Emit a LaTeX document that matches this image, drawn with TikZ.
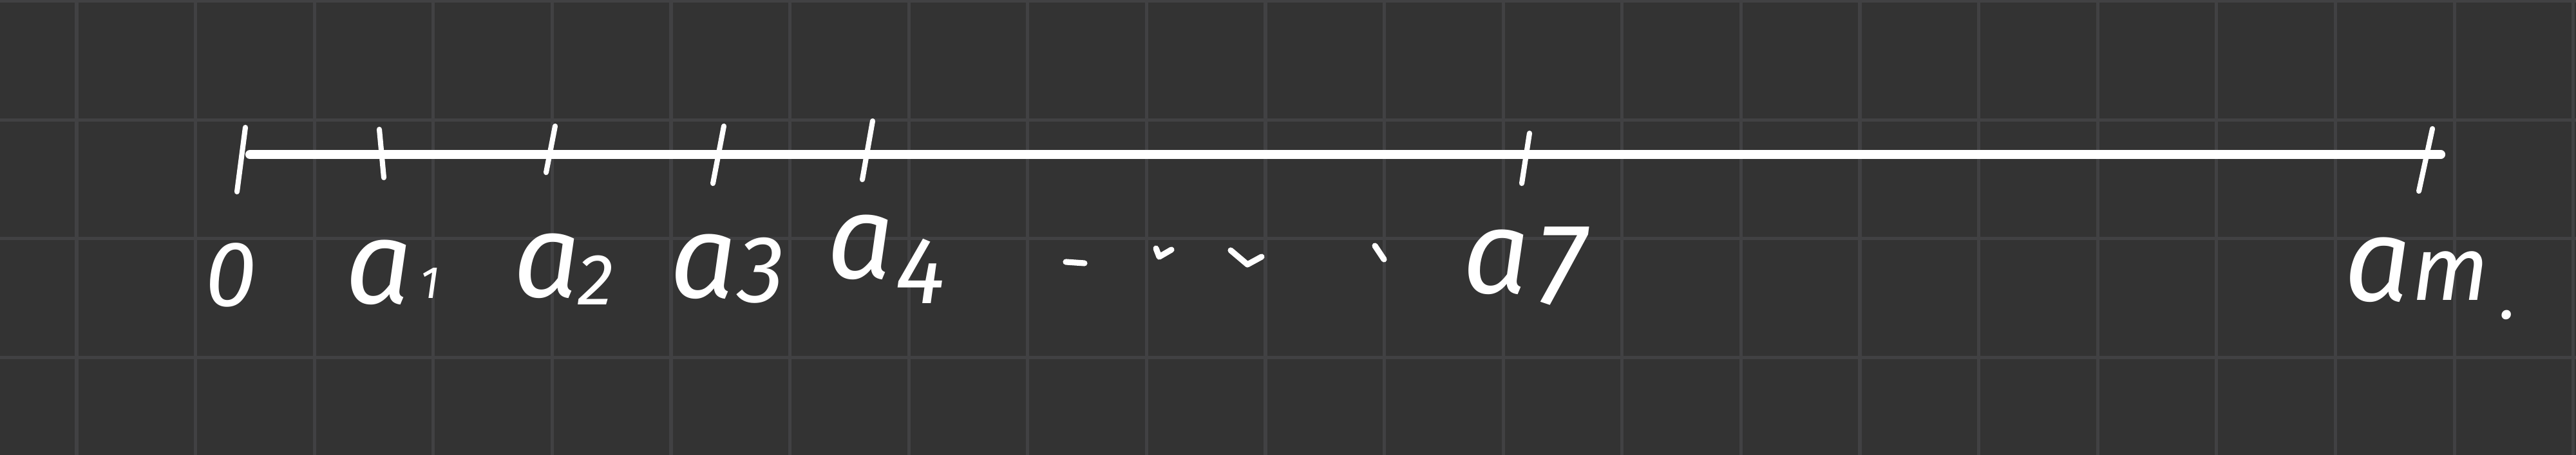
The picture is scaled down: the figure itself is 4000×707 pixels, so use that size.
\documentclass[tikz,border=0pt]{standalone}
\usepackage{fontspec}
\setmainfont{Fira Sans}
\definecolor{bgc}{HTML}{333333}
\definecolor{gridc}{HTML}{414143}
\begin{document}
\begin{tikzpicture}[x=0.01cm,y=-0.01cm,
  gridline/.style={draw=gridc,line width=1.45pt},
  axis/.style={draw=white,line width=4pt,line cap=round},
  tickmark/.style={draw=white,line width=2.3pt,line cap=round},
  letter/.style={text=white,inner sep=0pt,anchor=base west,font=\fontsize{52}{52}\selectfont\itshape},
  index/.style={text=white,inner sep=0pt,anchor=base west},
  dotmark/.style={draw=white,line width=2.6pt,line cap=round,line join=round}]
\useasboundingbox (0,0) rectangle (4000,707);
\fill[bgc] (0,0) rectangle (4000,707);
\foreach \k in {0,...,21} \draw[gridline] ({119+184.6*\k},0) -- ({119+184.6*\k},707);
\foreach \k in {0,...,3} \draw[gridline] (0,{1.5+184.6*\k}) -- (4000,{1.5+184.6*\k});
% axis
\coordinate (L) at (388,240);
\coordinate (R) at (3790,240);
\draw[axis] (L) -- (R);
% ticks
\coordinate (t0a) at (381,198); \coordinate (t0b) at (368,298);
\coordinate (t1a) at (589,201); \coordinate (t1b) at (596,276);
\coordinate (t2a) at (862,196); \coordinate (t2b) at (848,268);
\coordinate (t3a) at (1124,196); \coordinate (t3b) at (1107,285);
\coordinate (t4a) at (1355,188); \coordinate (t4b) at (1339,279);
\coordinate (t7a) at (2375,207); \coordinate (t7b) at (2363,285);
\coordinate (tma) at (3777,200); \coordinate (tmb) at (3756,297);
\draw[tickmark] (t0a) -- (t0b);
\draw[tickmark] (t1a) -- (t1b);
\draw[tickmark] (t2a) -- (t2b);
\draw[tickmark] (t3a) -- (t3b);
\draw[tickmark] (t4a) -- (t4b);
\draw[tickmark] (t7a) -- (t7b);
\draw[tickmark] (tma) -- (tmb);
% labels
\node[letter,font=\fontsize{41}{41}\selectfont\itshape] (zero) at (318,476) {0};
\node[letter] (a1) at (536,472) {a};
\node[index,font=\fontsize{20}{20}\selectfont\itshape] (s1) at (652,464) {1};
\node[letter] (a2) at (797,462) {a};
\node[index,font=\fontsize{32}{32}\selectfont\itshape] (s2) at (897,474) {2};
\node[letter] (a3) at (1040,463) {a};
\node[index,font=\fontsize{42}{42}\selectfont\itshape] (s3) at (1145,470) {3};
\node[letter] (a4) at (1284,433) {a};
\node[index,font=\fontsize{42}{42}\selectfont\itshape] (s4) at (1390,472) {4};
\node[letter] (a7) at (2271,456) {a};
\node[index,font=\fontsize{51}{51}\selectfont\itshape] (s7) at (2384,473) {7};
\node[letter] (am) at (3640,468) {a};
\node[index,font=\fontsize{40}{40}\selectfont\itshape] (sm) at (3745,467) {m};
\node[index,font=\fontsize{30}{30}\selectfont\itshape] (dot) at (3882,496) {.};
% ellipsis marks
\coordinate (d1a) at (1655,407); \coordinate (d1b) at (1684,409);
\draw[dotmark] (d1a) -- (d1b);
\coordinate (d2a) at (1795,386); \coordinate (d2b) at (1800,399); \coordinate (d2c) at (1819,388);
\draw[dotmark] (d2a) -- (d2b) -- (d2c);
\coordinate (d3a) at (1911,389); \coordinate (d3b) at (1937,411); \coordinate (d3c) at (1959,399);
\draw[dotmark] (d3a) -- (d3b) -- (d3c);
\coordinate (d4a) at (2135,382); \coordinate (d4b) at (2149,403);
\draw[dotmark] (d4a) -- (d4b);
\end{tikzpicture}
\end{document}
